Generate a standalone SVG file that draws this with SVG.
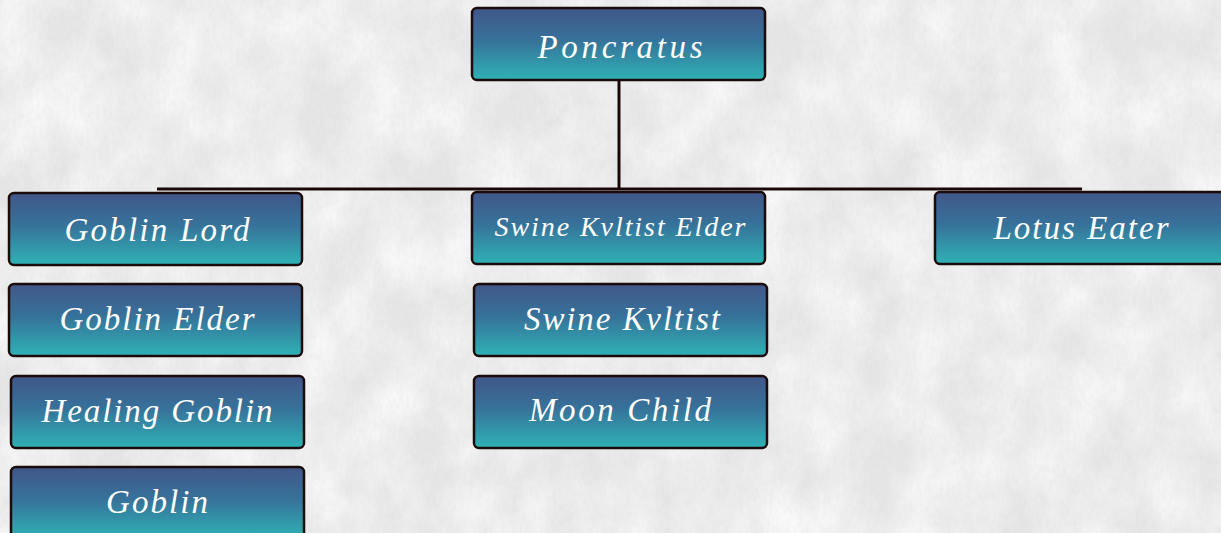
<svg xmlns="http://www.w3.org/2000/svg" width="1221" height="533" viewBox="0 0 1221 533">
  <defs>
    <linearGradient id="boxFill" x1="0" y1="0" x2="0" y2="1">
      <stop offset="0" stop-color="#415689"/>
      <stop offset="0.45" stop-color="#36729a"/>
      <stop offset="1" stop-color="#2fb2b5"/>
    </linearGradient>
    <filter id="marble" x="0" y="0" width="100%" height="100%" filterUnits="userSpaceOnUse">
      <feTurbulence type="fractalNoise" baseFrequency="0.02 0.014" numOctaves="5" seed="11"/>
      <feColorMatrix type="matrix" values="0 0 0 0 1  0 0 0 0 1  0 0 0 0 1  1.3 0 0 0 -0.35"/>
    </filter>
    <filter id="grain" x="0" y="0" width="100%" height="100%" filterUnits="userSpaceOnUse">
      <feTurbulence type="fractalNoise" baseFrequency="0.3 0.15" numOctaves="2" seed="4"/>
      <feColorMatrix type="matrix" values="0 0 0 0 0.65  0 0 0 0 0.65  0 0 0 0 0.65  0 0 0 -1.2 0.75"/>
    </filter>
  </defs>
  <style>
    .box { fill: url(#boxFill); stroke: #1b0b0b; stroke-width: 2.5; }
    .label { fill: #ffffff; font-family: "Liberation Serif", "DejaVu Serif", serif; font-style: italic; font-size: 33px; text-anchor: middle; }
    .small { font-size: 28px; }
    .wire { stroke: #1a0808; stroke-width: 3; fill: none; }
  </style>

  <!-- paper background -->
  <rect x="0" y="0" width="1221" height="533" fill="#e6e6e6"/>
  <rect x="0" y="0" width="1221" height="533" filter="url(#marble)"/>
  <rect x="0" y="0" width="1221" height="533" filter="url(#grain)" opacity="0.3"/>

  <g id="connectors">
    <line class="wire" x1="619" y1="80" x2="619" y2="189"/>
    <line class="wire" x1="157" y1="189" x2="1082" y2="189"/>
  </g>

  <g id="poncratus">
    <rect class="box" x="472" y="8" width="293" height="72" rx="5"/>
    <text class="label" x="620" y="58" textLength="165" lengthAdjust="spacing">Poncratus</text>
  </g>

  <g id="goblin-lord">
    <rect class="box" x="9" y="193" width="293" height="72" rx="5"/>
    <text class="label" x="157" y="241" textLength="185" lengthAdjust="spacing">Goblin Lord</text>
  </g>
  <g id="goblin-elder">
    <rect class="box" x="9" y="284" width="293" height="72" rx="5"/>
    <text class="label" x="157" y="330" textLength="195" lengthAdjust="spacing">Goblin Elder</text>
  </g>
  <g id="healing-goblin">
    <rect class="box" x="11" y="376" width="293" height="72" rx="5"/>
    <text class="label" x="157" y="422" textLength="231" lengthAdjust="spacing">Healing Goblin</text>
  </g>
  <g id="goblin">
    <rect class="box" x="11" y="467" width="293" height="72" rx="5"/>
    <text class="label" x="157" y="513" textLength="102" lengthAdjust="spacing">Goblin</text>
  </g>

  <g id="swine-kvltist-elder">
    <rect class="box" x="472" y="192" width="293" height="72" rx="5"/>
    <text class="label small" x="620" y="236" textLength="251" lengthAdjust="spacing">Swine Kvltist Elder</text>
  </g>
  <g id="swine-kvltist">
    <rect class="box" x="474" y="284" width="293" height="72" rx="5"/>
    <text class="label" x="622" y="330" textLength="196" lengthAdjust="spacing">Swine Kvltist</text>
  </g>
  <g id="moon-child">
    <rect class="box" x="474" y="376" width="293" height="72" rx="5"/>
    <text class="label" x="620" y="421" textLength="182" lengthAdjust="spacing">Moon Child</text>
  </g>

  <g id="lotus-eater">
    <rect class="box" x="935" y="192" width="293" height="72" rx="5"/>
    <text class="label" x="1081" y="239" textLength="175" lengthAdjust="spacing">Lotus Eater</text>
  </g>
</svg>
